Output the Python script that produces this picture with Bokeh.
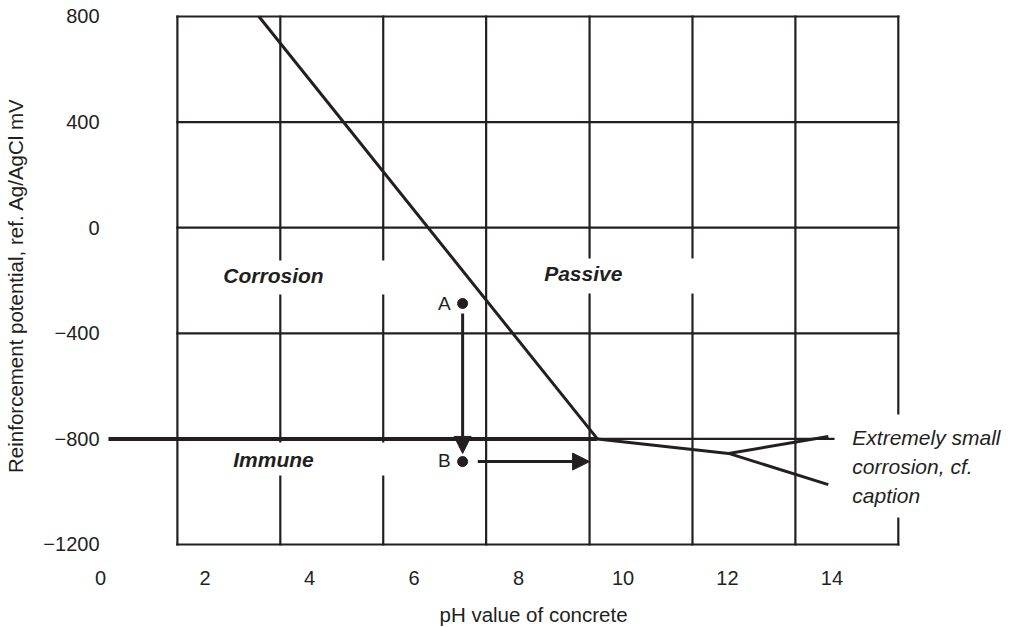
import math
from bokeh.plotting import figure
from bokeh.models import Arrow, NormalHead, Range1d
from bokeh.core.properties import value
from bokeh.embed import file_html
from bokeh.resources import INLINE

# ---------------- data ----------------
ph_ticks = [0, 2, 4, 6, 8, 10, 12, 14]
ph_tick_labels = ["0", "2", "4", "6", "8", "10", "12", "14"]
mv_ticks = [800, 400, 0, -400, -800, -1200]
mv_tick_labels = ["800", "400", "0", "\u2212400", "\u2212800", "\u22121200"]

grid_ph = [1.47, 3.44, 5.41, 7.38, 9.36, 11.33, 13.30, 15.27]
grid_mv = [800, 400, 0, -400, -800, -1200]

immune_ph = [0.15, 9.51]
immune_mv = [-800, -800]
passive_ph = [3.03, 9.51]
passive_mv = [800, -800]
lower_ph = [9.51, 12.02, 13.93]
lower_mv = [-800, -855, -973]
upper_ph = [12.02, 13.93]
upper_mv = [-855, -791]

point_names = ["A", "B"]
point_ph = [6.93, 6.93]
point_mv = [-287, -886]

region_names = ["Corrosion", "Passive", "Immune"]
note_text = "Extremely small\ncorrosion, cf.\ncaption"
x_title = "pH value of concrete"
y_title = "Reinforcement potential, ref. Ag/AgCl mV"

# ---------------- layout / positions ----------------
INK = "#231f20"
FONT = "Liberation Sans"

region_label_ph = [3.31, 9.24, 3.31]
region_label_mv = [-182, -175, -879]
point_label_ph = [6.58, 6.58]
point_label_mv = [-288, -883]

gap_left = [2.11, 8.23, 1.91, 14.05]
gap_right = [6.12, 12.06, 6.12, 17.4]
gap_bottom = [-253, -249, -939, -1098]
gap_top = [-124, -117, -814, -708]

ytick_label_ph = -0.021      # right edge of y tick labels
xtick_label_mv = -1327       # baseline of x tick labels

p = figure(width=1013, height=627,
           x_range=Range1d(-1.9162, 17.475), y_range=Range1d(-1514.4, 860.6),
           output_backend="svg", toolbar_location=None,
           x_axis_location=None, y_axis_location=None,
           min_border=0, min_border_left=0, min_border_right=0,
           min_border_top=0, min_border_bottom=0)
p.grid.visible = False
p.outline_line_color = None
p.background_fill_color = "white"
p.border_fill_color = "white"

# tick labels (drawn through the data scales)
p.text(x=ph_ticks, y=[xtick_label_mv] * len(ph_ticks), text=ph_tick_labels,
       text_font=value(FONT), text_font_size="20px", text_color=INK,
       text_align="center", text_baseline="alphabetic")
p.text(x=[ytick_label_ph] * len(mv_ticks), y=mv_ticks, text=mv_tick_labels,
       text_font=value(FONT), text_font_size="20px", text_color=INK,
       text_align="right", text_baseline="middle")

# grid box
n_v = len(grid_ph)
n_h = len(grid_mv)
p.segment(x0=grid_ph, y0=[min(grid_mv)] * n_v, x1=grid_ph, y1=[max(grid_mv)] * n_v,
          line_color=INK, line_width=2.2, line_cap="square")
p.segment(x0=[min(grid_ph)] * n_h, y0=grid_mv, x1=[max(grid_ph)] * n_h, y1=grid_mv,
          line_color=INK, line_width=2.2, line_cap="square")

# white gaps behind labels
p.quad(left=gap_left, right=gap_right, bottom=gap_bottom, top=gap_top,
       fill_color="white", line_color=None)

# boundaries
p.line(immune_ph, immune_mv, line_color=INK, line_width=4)
p.line(passive_ph, passive_mv, line_color=INK, line_width=3)
p.line(lower_ph, lower_mv, line_color=INK, line_width=3)
p.line(upper_ph, upper_mv, line_color=INK, line_width=3)

# points and arrows
p.scatter(point_ph, point_mv, size=10, fill_color=INK, line_color=INK)
p.add_layout(Arrow(end=NormalHead(size=17, fill_color=INK, line_color=INK),
                   x_start=point_ph[0], y_start=-325, x_end=point_ph[0], y_end=-855,
                   line_color=INK, line_width=3))
p.add_layout(Arrow(end=NormalHead(size=17, fill_color=INK, line_color=INK),
                   x_start=7.22, y_start=point_mv[1], x_end=9.36, y_end=point_mv[1],
                   line_color=INK, line_width=3))

# texts
p.text(x=region_label_ph, y=region_label_mv, text=region_names,
       text_font=value(FONT), text_font_style="bold italic", text_font_size="21px",
       text_align="center", text_baseline="alphabetic", text_color=INK)
p.text(x=point_label_ph, y=point_label_mv, text=point_names,
       text_font=value(FONT), text_font_size="19px",
       text_align="center", text_baseline="alphabetic", text_color=INK)
p.text(x=[14.39], y=[-753], text=[note_text],
       text_font=value(FONT), text_font_style="italic", text_font_size="21px",
       text_align="left", text_baseline="top", text_line_height=1.24, text_color=INK)

# axis titles
p.text(x=[8.287], y=[-1467], text=[x_title],
       text_font=value(FONT), text_font_size="20.5px", text_color=INK,
       text_align="center", text_baseline="alphabetic")
p.text(x=[-1.63], y=[-219], text=[y_title], angle=math.pi / 2,
       text_font=value(FONT), text_font_size="20.5px", text_color=INK,
       text_align="center", text_baseline="alphabetic")

open("out.html", "w").write(file_html(p, INLINE))
